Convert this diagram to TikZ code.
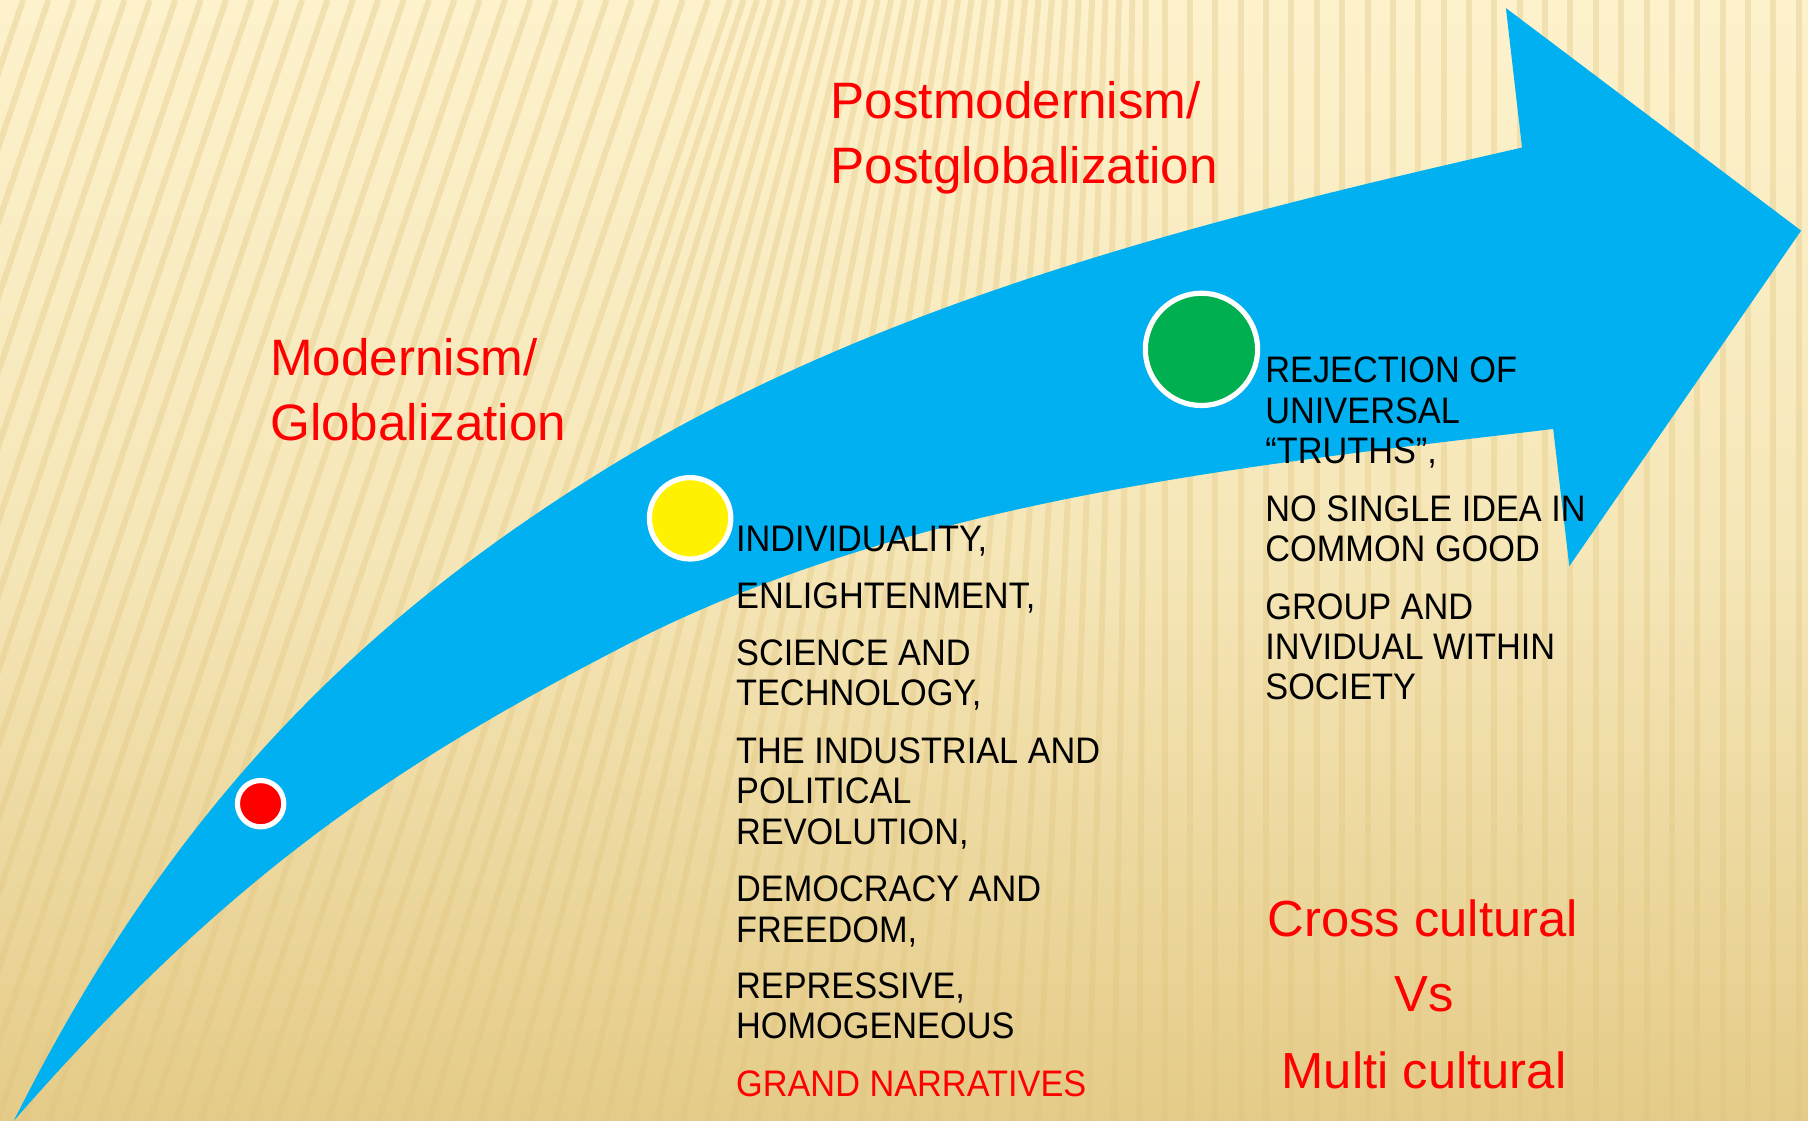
\documentclass[tikz,border=0pt]{standalone}
\usepackage{fontspec}
\newfontfamily\hdfont{Liberation Sans}
\newfontfamily\bdfont[FakeStretch=0.93]{Liberation Sans}
\definecolor{arrowblue}{HTML}{00B0F0}
\definecolor{dotgreen}{HTML}{00B050}
\definecolor{bgtop}{HTML}{FDF2CC}
\definecolor{bgbot}{HTML}{E4CB88}
\definecolor{stripecol}{HTML}{E0C47E}
\begin{document}
\begin{tikzpicture}[x=0.5pt,y=-0.5pt,
  head/.style={inner sep=0, anchor=base west, text=red, font=\hdfont\fontsize{22.2}{26}\selectfont},
  body/.style={inner sep=0, anchor=base west, text=black, font=\bdfont\fontsize{16}{18}\selectfont},
  ctr/.style={inner sep=0, anchor=base, text=red, font=\hdfont\fontsize{22}{26}\selectfont},
  dot/.style={circle, draw=white, line width=2.25pt, inner sep=0, outer sep=0},
  stripe/.style={draw=stripecol, line width=2.6pt, opacity=0.35}]
\useasboundingbox (0,0) rectangle (1568,972);
% background
\shade[top color=bgtop, bottom color=bgbot, middle color=bgtop!70!bgbot] (0,0) rectangle (1568,972);
\begin{scope}
  \clip (0,0) rectangle (1568,972);
  \foreach \xb in {-420,-398,...,1600}{
    \pgfmathsetmacro\sh{330*min(1,max(0,(1000-\xb)/700))}
    \draw[stripe] (\xb,972) -- ({\xb+\sh},0);
  }
\end{scope}
% arrow
\coordinate (tail) at (12,972);
\coordinate (umid) at (520,410);
\coordinate (notchu) at (1320,128);
\coordinate (headt) at (1306,7);
\coordinate (tip) at (1562,200);
\coordinate (headb) at (1361,491);
\coordinate (notchl) at (1347,372);
\coordinate (lmid) at (538,562);
\fill[arrowblue] (tail) .. controls (146,704) and (308,542) .. (umid)
  .. controls (758,262) and (1047,190) .. (notchu)
  -- (headt) -- (tip) -- (headb) -- (notchl)
  .. controls (1072,405) and (784,434) .. (lmid)
  .. controls (341,664) and (196,761) .. (tail) -- cycle;
% dots
\node[dot, fill=red, minimum size=20.1pt] (rdot) at (226,697) {};
\node[dot, fill=yellow, minimum size=35.3pt] (ydot) at (598.5,449.5) {};
\node[dot, fill=dotgreen, minimum size=48.7pt] (gdot) at (1042,303) {};
% headings
\node[head] (h1) at (234,326) {Modernism/};
\node[head] (h2) at (234,382) {Globalization};
\node[head] (h3) at (720,103) {Postmodernism/};
\node[head] (h4) at (720,159) {Postglobalization};
% middle list
\foreach \yy/\tt [count=\i] in {478/{INDIVIDUALITY,}, 528/{ENLIGHTENMENT,}, 577/{SCIENCE AND}, 612/{TECHNOLOGY,}, 662/{THE INDUSTRIAL AND}, 697/{POLITICAL}, 732/{REVOLUTION,}, 782/{DEMOCRACY AND}, 817/{FREEDOM,}, 866/{REPRESSIVE,}, 901/{HOMOGENEOUS}}
  \node[body] (m\i) at (638,\yy) {\tt};
\node[body, text=red] (m12) at (638,951) {GRAND NARRATIVES};
% right list
\foreach \yy/\tt [count=\i] in {332/{REJECTION OF}, 367/{UNIVERSAL}, 402/{“TRUTHS”,}, 452/{NO SINGLE IDEA IN}, 487/{COMMON GOOD}, 537/{GROUP AND}, 572/{INVIDUAL WITHIN}, 607/{SOCIETY}}
  \node[body] (r\i) at (1097,\yy) {\tt};
% bottom right
\node[ctr] (c1) at (1234,812) {Cross cultural};
\node[ctr] (c2) at (1235,877) {Vs};
\node[ctr] (c3) at (1235,944) {Multi cultural};
\end{tikzpicture}
\end{document}
